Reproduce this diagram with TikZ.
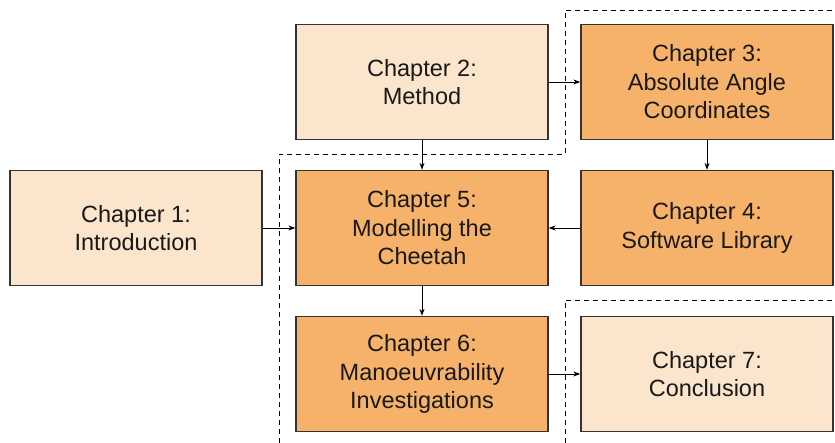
\documentclass[tikz,border=0pt]{standalone}
\usepackage{fontspec}
\setmainfont{Liberation Sans}
\usetikzlibrary{arrows.meta}
\definecolor{lightbox}{HTML}{FCE5CD}
\definecolor{darkbox}{HTML}{F6B26B}
\definecolor{edge}{HTML}{333333}
\begin{document}
\begin{tikzpicture}[x=1pt,y=-1pt,
  chap/.style={draw=edge,line width=1.3pt,minimum width=252pt,minimum height=115pt,
    align=center,inner sep=0pt,font=\fontsize{23.5}{28.5}\selectfont,text=black!90},
  lite/.style={chap,fill=lightbox},
  dark/.style={chap,fill=darkbox},
  link/.style={-{Stealth[length=7pt,width=5pt]},line width=0.9pt,black},
  bound/.style={dashed,line width=0.9pt,black,dash pattern=on 5pt off 4pt}]
\useasboundingbox (0,0) rectangle (835,443);
\node[lite] (c1) at (136,228) {Chapter 1:\\Introduction};
\node[lite] (c2) at (422,82) {Chapter 2:\\Method};
\node[dark] (c3) at (707,82) {Chapter 3:\\Absolute Angle\\Coordinates};
\node[dark] (c4) at (707,228) {Chapter 4:\\Software Library};
\node[dark] (c5) at (422,228) {Chapter 5:\\Modelling the\\Cheetah};
\node[dark] (c6) at (422,374) {Chapter 6:\\Manoeuvrability\\Investigations};
\node[lite] (c7) at (707,374) {Chapter 7:\\Conclusion};
\coordinate (d1) at (279,443);
\coordinate (d2) at (279,154);
\coordinate (d3) at (565,154);
\coordinate (d4) at (565,10);
\coordinate (d5) at (835,10);
\coordinate (e1) at (565,443);
\coordinate (e2) at (565,300);
\coordinate (e3) at (835,300);
\draw[bound] (d1) -- (d2) -- (d3) -- (d4) -- (d5);
\draw[bound] (e1) -- (e2) -- (e3);
\draw[link] (c1) -- (c5);
\draw[link] (c2) -- (c5);
\draw[link] (c2) -- (c3);
\draw[link] (c3) -- (c4);
\draw[link] (c4) -- (c5);
\draw[link] (c5) -- (c6);
\draw[link] (c6) -- (c7);
\end{tikzpicture}
\end{document}
